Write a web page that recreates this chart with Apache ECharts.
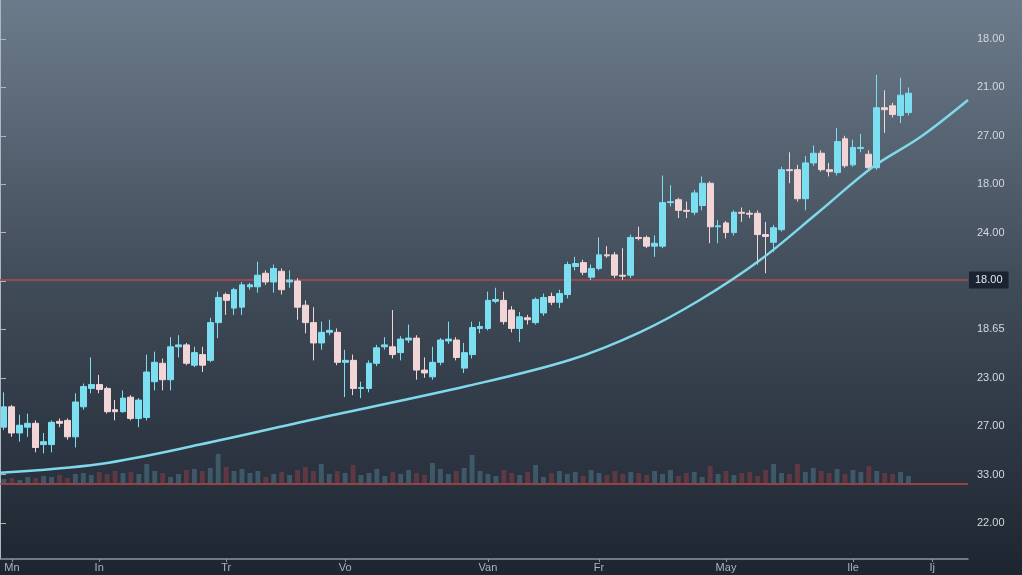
<!DOCTYPE html>
<html><head><meta charset="utf-8">
<style>html,body{margin:0;padding:0;background:#3a4552}#chart{width:1022px;height:575px}</style>
<script src="https://cdn.jsdelivr.net/npm/echarts@6/dist/echarts.min.js"></script>
</head><body><div id="chart"></div>
<script>
// [open, close, low, high]
const ohlc = [
[199,220,196,235],[220,193,189,222],[193,201,184,212],[199,203,189,213],[203,178,173,206],
[181,184,172,193],[181,204,173,206],[205,203,199,208],[206,189,186,208],[189,225,178,234],
[220,241,217,244],[239,243,234,271],[243,238,234,253],[239,215,213,241],[217,215,206,227],
[215,229,214,237],[230,208,206,232],[208,227,199,229],[209,256,206,274],[246,266,237,277],
[265,248,237,270],[248,282,237,292],[282,284,271,294],[284,265,263,286],[263,276,261,282],
[274,263,256,282],[268,307,266,312],[307,333,291,339],[336,330,315,338],[322,341,315,343],
[323,346,315,349],[344,346,341,348],[344,356,338,370],[358,349,346,361],[349,363,338,367],
[360,341,336,363],[349,351,343,361],[350,323,310,353],[325,307,296,330],[307,286,268,323],
[286,297,279,308],[297,299,294,310],[297,266,263,301],[266,268,230,279],[268,239,232,274],
[239,240,229,246],[239,265,235,268],[265,281,262,284],[282,284,279,292],[282,274,270,320],
[276,290,268,293],[289,291,286,305],[291,258,248,294],[258,255,250,271],[251,266,248,282],
[266,289,263,291],[288,290,285,308],[289,271,268,292],[260,276,255,286],[274,302,270,308],
[301,303,296,308],[301,330,299,339],[329,331,327,343],[330,308,305,339],[320,301,297,324],
[301,313,287,318],[312,310,305,315],[307,331,305,333],[317,333,314,337],[334,328,325,338],
[328,337,322,341],[336,367,332,370],[365,368,361,375],[369,359,356,372],[354,363,351,367],
[363,377,361,395],[377,376,374,386],[377,356,353,380],[356,355,351,384],[356,395,353,398],
[395,394,392,406],[395,386,384,397],[386,389,375,397],[386,431,384,459],[431,432,427,449],
[434,423,415,436],[423,422,415,432],[421,441,418,444],[428,451,423,458],[451,406,389,453],
[406,407,389,413],[410,400,394,412],[400,421,397,423],[421,420,411,426],[420,419,415,423],
[420,398,367,423],[398,396,358,411],[390,405,380,408],[403,465,401,468],[465,464,451,483],
[465,435,432,470],[435,472,423,479],[472,482,469,490],[482,465,463,485],[465,463,458,472],
[462,494,459,508],[497,469,467,500],[470,488,468,496],[487,488,483,502],[481,467,465,485],
[467,529,465,563],[529,527,503,547],[531,522,519,534],[521,542,513,560],[524,544,521,550]
];
const volumes = [
4,5,3,6,5,7,6,8,5,9,
10,8,11,9,12,10,11,9,19,12,
10,6,9,13,14,12,15,29,16,12,
14,10,12,6,9,11,8,13,16,12,
19,9,12,10,18,8,10,14,7,11,
9,13,10,8,20,14,9,12,15,28,
12,9,7,13,10,8,11,18,6,10,
12,9,11,7,13,10,8,12,9,11,
10,8,12,9,13,7,10,11,6,17,
9,12,8,10,11,7,13,19,10,9,
19,11,15,12,10,14,9,13,11,17,
12,10,9,11,7
];
const maPos    = [0, 12.6, 25.2, 40.3, 58.9, 71.8, 80.7, 88.2, 95.8, 103.0, 110.0, 116.0, 122];
const maValues = [152, 161, 181, 208.5, 241.5, 268.4, 297.3, 330.4, 371.7, 420, 467.8, 498.7, 537];
const yTickValues = [100,150,200,250,300,350,400,450,500,550,600];
const yTickLabels = ['22.00','33.00','27.00','23.00','18.65','18.00','24.00','18.00','27.00','21.00','18.00'];
const xLabels = ['Mn','In','Tr','Vo','Van','Fr','May','Ile','Ij'];
const xLabelIndex = [1,12,28,43,61,75,91,107,117];
const categoryCount = 122;
const levels = [351, 141];
const levelTag = '18.00';

const categories = [];
for (let i = 0; i < categoryCount; i++) {
  const k = xLabelIndex.indexOf(i);
  categories.push(k >= 0 ? xLabels[k] : 'd' + i);
}
const showIdx = (i) => xLabelIndex.indexOf(i) >= 0;
const volData = volumes.map((v, i) => ({
  value: v,
  itemStyle: { color: ohlc[i][1] >= ohlc[i][0] ? 'rgba(80,120,140,0.55)' : 'rgba(130,60,70,0.6)' }
}));

const chart = echarts.init(document.getElementById('chart'));
chart.setOption({
  animation: false,
  backgroundColor: {
    type: 'linear', x: 0, y: 0, x2: 0, y2: 1,
    colorStops: [
      { offset: 0, color: '#6c7b8b' },
      { offset: 0.5, color: '#404b58' },
      { offset: 1, color: '#1d2530' }
    ]
  },
  textStyle: { fontFamily: 'Liberation Sans, Arial, sans-serif' },
  grid: [
    { left: 0, right: 54, top: 0, bottom: 16 },
    { left: 0, right: 54, top: 443, height: 40 }
  ],
  xAxis: [
    {
      type: 'category', gridIndex: 0, data: categories, boundaryGap: true,
      axisLine: { lineStyle: { color: '#8d96a0', width: 1.5 } },
      axisTick: { show: true, interval: showIdx, alignWithLabel: true, length: 3, lineStyle: { color: '#8d96a0' } },
      axisLabel: { interval: showIdx, color: '#aab3bc', fontSize: 11, margin: 3 },
      splitLine: { show: false }
    },
    { type: 'category', gridIndex: 1, data: categories, show: false, boundaryGap: true },
    { type: 'value', gridIndex: 0, min: 0, max: categoryCount, show: false }
  ],
  yAxis: [
    {
      type: 'value', gridIndex: 0, position: 'right', min: 62.8, max: 640.3,
      splitLine: { show: false },
      axisLine: { show: true, lineStyle: { color: '#aeb7c0', width: 1 } },
      axisTick: { show: true, customValues: yTickValues, length: 6, lineStyle: { color: '#aeb7c0' } },
      axisLabel: {
        customValues: yTickValues.filter(v => v !== 350),
        formatter: (v) => yTickLabels[Math.round((v - 100) / 50)],
        color: '#d3d9df', fontSize: 11, margin: 9
      }
    },
    { type: 'value', gridIndex: 1, min: 0, max: 40, show: false }
  ],
  series: [
    {
      type: 'bar', xAxisIndex: 1, yAxisIndex: 1, data: volData, barWidth: '62%', z: 1
    },
    {
      type: 'candlestick', xAxisIndex: 0, yAxisIndex: 0, data: ohlc, barWidth: '80%', z: 3,
      itemStyle: {
        color: '#7bdff1', color0: '#f2d5d7',
        borderColor: '#7bdff1', borderColor0: '#f2d5d7', borderWidth: 1
      },
      markLine: {
        silent: true, symbol: 'none', z: 2,
        lineStyle: { color: '#b9474c', width: 1.5, type: 'solid' },
        data: [
          { yAxis: levels[0], label: { show: true, position: 'end', formatter: levelTag,
              color: '#e3e8ee', fontSize: 11, backgroundColor: '#1b2330', padding: [3, 6], distance: 1 } },
          { yAxis: levels[1], label: { show: false } }
        ]
      }
    },
    {
      type: 'line', xAxisIndex: 2, yAxisIndex: 0, z: 4,
      data: maPos.map((x, i) => [x, maValues[i]]),
      smooth: 0.35, showSymbol: false,
      lineStyle: { color: '#80d8eb', width: 2.5 }
    }
  ]
});
</script>
</body></html>
